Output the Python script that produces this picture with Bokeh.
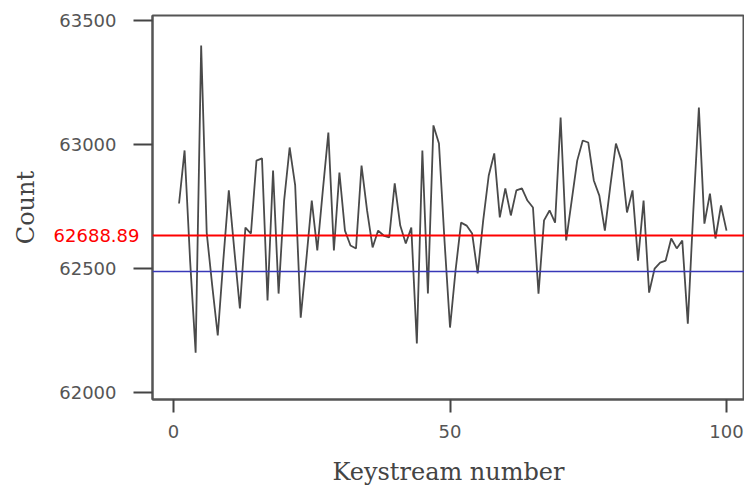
from bokeh.plotting import figure
from bokeh.models import Range1d, FixedTicker, Span, LinearAxis
from bokeh.embed import file_html
from bokeh.resources import INLINE

keystream = list(range(1, 101))
counts = [
    62762, 62976, 62532, 62161, 63399, 62645, 62431, 62230, 62532, 62815,
    62573, 62339, 62665, 62641, 62935, 62944, 62371, 62895, 62399, 62774,
    62988, 62835, 62302, 62532, 62774, 62573, 62815, 63048, 62573, 62887,
    62653, 62593, 62581, 62915, 62734, 62585, 62653, 62633, 62625, 62843,
    62673, 62601, 62665, 62198, 62976, 62399, 63077, 63004, 62613, 62262,
    62492, 62685, 62673, 62641, 62480, 62694, 62875, 62964, 62706, 62823,
    62714, 62815, 62823, 62774, 62746, 62399, 62694, 62734, 62685, 63109,
    62613, 62774, 62935, 63016, 63008, 62855, 62794, 62653, 62835, 63004,
    62935, 62726, 62815, 62532, 62774, 62403, 62500, 62524, 62532, 62621,
    62581, 62613, 62278, 62734, 63149, 62681, 62802, 62621, 62754, 62653,
]
y_ticks = [62000, 62500, 63000, 63500]
x_ticks = [0, 50, 100]
mean_label = "62688.89"
mean_line_pos = 62633
expected_line_pos = 62488

p = figure(width=744, height=488, output_backend="svg", toolbar_location=None,
           x_range=Range1d(-3.8, 103.25), y_range=Range1d(61972, 63520),
           min_border_left=152, min_border_top=15, min_border_right=0,
           min_border_bottom=89)
p.grid.visible = False
p.background_fill_color = "white"
p.border_fill_color = "white"
p.outline_line_color = "#555555"
p.outline_line_width = 2

p.line(keystream, counts, line_color="#4a4a4a", line_width=1.8)

p.add_layout(Span(location=mean_line_pos, dimension="width",
                  line_color="#ff0000", line_width=2))
p.add_layout(Span(location=expected_line_pos, dimension="width",
                  line_color="#3838b8", line_width=1.3))

font = "DejaVu Sans"
for ax in (p.xaxis[0], p.yaxis[0]):
    ax.axis_line_color = "#555555"
    ax.axis_line_width = 2
    ax.major_tick_line_color = "#444444"
    ax.major_tick_line_width = 2
    ax.minor_tick_line_color = None
    ax.major_tick_in = 0
    ax.major_label_text_font = font
    ax.major_label_text_font_size = "18px"
    ax.major_label_text_color = "#555555"
    ax.axis_label_text_font = "DejaVu Serif"
    ax.axis_label_text_font_size = "24px"
    ax.axis_label_text_font_style = "normal"
    ax.axis_label_text_color = "#444444"

p.yaxis.ticker = FixedTicker(ticks=y_ticks)
p.yaxis.major_tick_out = 19
p.yaxis.major_label_standoff = 17

p.xaxis.ticker = FixedTicker(ticks=x_ticks)
p.xaxis.major_tick_out = 13
p.xaxis.major_label_standoff = 12
p.xaxis.axis_label = "Keystream number"
p.xaxis.axis_label_standoff = 17

# outer left axis: carries the red mean label (pulled inward) and the title
mean_axis = LinearAxis(ticker=FixedTicker(ticks=[mean_line_pos]),
                       major_label_overrides={mean_line_pos: mean_label},
                       axis_line_color=None, major_tick_line_color=None,
                       minor_tick_line_color=None, major_tick_in=0,
                       major_tick_out=0, major_label_standoff=-83,
                       major_label_text_font=font,
                       major_label_text_font_size="18px",
                       major_label_text_color="#ff0000",
                       axis_label="Count", axis_label_standoff=11,
                       axis_label_text_font="DejaVu Serif",
                       axis_label_text_font_size="24px",
                       axis_label_text_font_style="normal",
                       axis_label_text_color="#444444")
p.add_layout(mean_axis, "left")

open("out.html", "w").write(file_html(p, INLINE))
